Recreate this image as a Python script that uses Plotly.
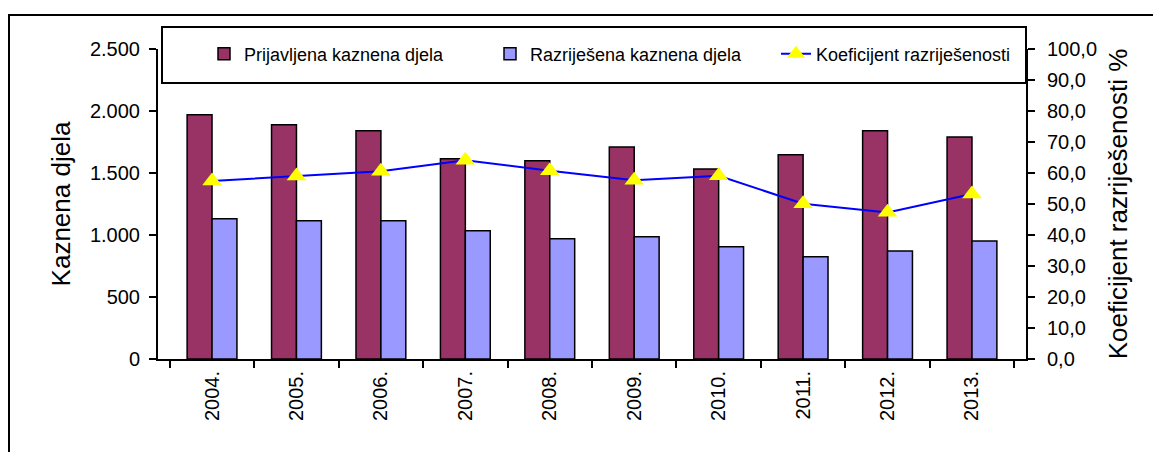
import plotly.graph_objects as go

years = ["2004.", "2005.", "2006.", "2007.", "2008.", "2009.", "2010.", "2011.", "2012.", "2013."]
prijavljena = [1970, 1890, 1841, 1615, 1599, 1710, 1532, 1648, 1841, 1790]
razrijesena = [1131, 1115, 1115, 1035, 970, 986, 906, 825, 871, 952]
koeficijent = [57.4, 59.0, 60.6, 64.1, 60.7, 57.7, 59.1, 50.1, 47.3, 53.2]

FONT = "Liberation Sans, Arial, sans-serif"

fig = go.Figure()
fig.add_trace(go.Bar(
    x=years, y=prijavljena, name="Prijavljena kaznena djela",
    marker=dict(color="#993366", line=dict(color="black", width=1.5)),
))
fig.add_trace(go.Bar(
    x=years, y=razrijesena, name="Razriješena kaznena djela",
    marker=dict(color="#9999FF", line=dict(color="black", width=1.5)),
))
fig.add_trace(go.Scatter(
    x=years, y=koeficijent, name="Koeficijent razriješenosti", yaxis="y2",
    mode="lines+markers",
    line=dict(color="#0000FF", width=2),
    marker=dict(symbol="triangle-up", size=17, color="#FFFF00", line=dict(width=0)),
))

# page body has an 8px default margin
OFF = 8
W, H = 1161 - OFF, 452 - OFF
L, R, T, B = 158 - OFF, 1026 - OFF, 49 - OFF, 359 - OFF
pw, ph = R - L, B - T


def px(x):
    return (x - OFF - L) / pw


def py(y):
    return (B - (y - OFF)) / ph


fig.update_layout(
    width=W, height=H,
    margin=dict(l=L, r=W - R, t=T, b=H - B),
    paper_bgcolor="white", plot_bgcolor="white",
    font=dict(family=FONT, color="black", size=20),
    separators=",.",
    barmode="group", bargap=0.41, bargroupgap=0,
    showlegend=True,
    legend=dict(
        orientation="h", x=px(204), xanchor="left", y=py(54), yanchor="middle",
        font=dict(size=18, family=FONT), bgcolor="rgba(0,0,0,0)",
        entrywidth=241, entrywidthmode="pixels", traceorder="normal",
    ),
    xaxis=dict(
        type="category", showline=True, linecolor="black", linewidth=2,
        ticks="outside", ticklen=7, tickwidth=2, tickcolor="black", tickson="boundaries",
        tickangle=-90, tickfont=dict(size=20), showgrid=False, zeroline=False,
        ticklabelstandoff=2,
    ),
    yaxis=dict(
        range=[0, 2500], dtick=500, tickformat=",d",
        showline=True, linecolor="black", linewidth=2,
        ticks="outside", ticklen=7, tickwidth=2, tickcolor="black",
        showgrid=False, zeroline=False, tickfont=dict(size=20),
        ticklabelstandoff=5,
        title=dict(text="Kaznena djela", font=dict(size=26), standoff=12),
    ),
    yaxis2=dict(
        range=[0, 100], dtick=10, tickformat=".1f", overlaying="y", side="right",
        showline=True, linecolor="black", linewidth=2,
        ticks="outside", ticklen=7, tickwidth=2, tickcolor="black",
        showgrid=False, zeroline=False, tickfont=dict(size=20),
        ticklabelstandoff=8,
        title=dict(text="Koeficijent razriješenosti %", font=dict(size=26), standoff=13),
    ),
    shapes=[
        dict(type="rect", xref="paper", yref="paper",
             x0=px(9), x1=px(1175), y0=py(470), y1=py(15),
             line=dict(color="black", width=2), fillcolor="rgba(0,0,0,0)", layer="above"),
        dict(type="rect", xref="paper", yref="paper",
             x0=px(162), x1=px(1026), y0=py(83), y1=py(27),
             line=dict(color="black", width=2), fillcolor="rgba(0,0,0,0)", layer="above"),
    ],
)

fig.write_html("out.html")
